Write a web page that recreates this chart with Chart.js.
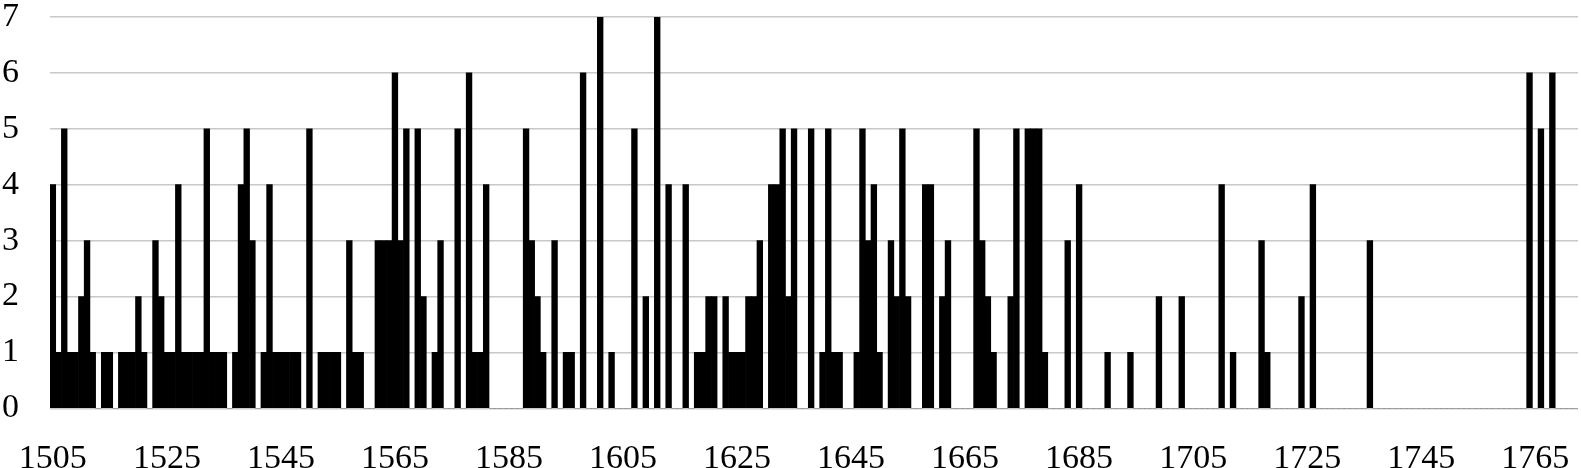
<!DOCTYPE html>
<html>
<head>
<meta charset="utf-8">
<script src="https://cdn.jsdelivr.net/npm/chart.js@4/dist/chart.umd.min.js"></script>
<style>
  html, body { margin: 0; padding: 0; background: #fff; }
  #wrap { width: 1581px; height: 468px; }
</style>
</head>
<body>
<div id="wrap"><canvas id="chart"></canvas></div>
<script>
// years on the category axis, one bar per year
const firstYear = 1505;
const lastYear = 1772;
const labelEvery = 20; // tick labels: 1505, 1525, ... 1765

// counts per year (10 per row, starting 1505)
const counts = [
  4, 1, 5, 1, 1, 2, 3, 1, 0, 1, // 1505
  1, 0, 1, 1, 1, 2, 1, 0, 3, 2, // 1515
  1, 1, 4, 1, 1, 1, 1, 5, 1, 1, // 1525
  1, 0, 1, 4, 5, 3, 0, 1, 4, 1, // 1535
  1, 1, 1, 1, 0, 5, 0, 1, 1, 1, // 1545
  1, 0, 3, 1, 1, 0, 0, 3, 3, 3, // 1555
  6, 3, 5, 0, 5, 2, 0, 1, 3, 0, // 1565
  0, 5, 0, 6, 1, 1, 4, 0, 0, 0, // 1575
  0, 0, 0, 5, 3, 2, 1, 0, 3, 0, // 1585
  1, 1, 0, 6, 0, 0, 7, 0, 1, 0, // 1595
  0, 0, 5, 0, 2, 0, 7, 0, 4, 0, // 1605
  0, 4, 0, 1, 1, 2, 2, 0, 2, 1, // 1615
  1, 1, 2, 2, 3, 0, 4, 4, 5, 2, // 1625
  5, 0, 0, 5, 0, 1, 5, 1, 1, 0, // 1635
  0, 1, 5, 3, 4, 1, 0, 3, 2, 5, // 1645
  2, 0, 0, 4, 4, 0, 2, 3, 0, 0, // 1655
  0, 0, 5, 3, 2, 1, 0, 0, 2, 5, // 1665
  0, 5, 5, 5, 1, 0, 0, 0, 3, 0, // 1675
  4, 0, 0, 0, 0, 1, 0, 0, 0, 1, // 1685
  0, 0, 0, 0, 2, 0, 0, 0, 2, 0, // 1695
  0, 0, 0, 0, 0, 4, 0, 1, 0, 0, // 1705
  0, 0, 3, 1, 0, 0, 0, 0, 0, 2, // 1715
  0, 4, 0, 0, 0, 0, 0, 0, 0, 0, // 1725
  0, 3, 0, 0, 0, 0, 0, 0, 0, 0, // 1735
  0, 0, 0, 0, 0, 0, 0, 0, 0, 0, // 1745
  0, 0, 0, 0, 0, 0, 0, 0, 0, 6, // 1755
  0, 5, 0, 6, 0, 0, 0, 0        // 1765
];

const yTicks = [0, 1, 2, 3, 4, 5, 6, 7];

const years = [];
for (let y = firstYear; y <= lastYear; y++) years.push(String(y));

const serif = "'Liberation Serif', 'Times New Roman', serif";

new Chart(document.getElementById("chart"), {
  type: "bar",
  data: {
    labels: years,
    datasets: [
      {
        data: counts,
        backgroundColor: "#000000",
        borderWidth: 0,
        barPercentage: 1,
        categoryPercentage: 1,
      },
    ],
  },
  options: {
    responsive: true,
    maintainAspectRatio: false,
    animation: false,
    layout: { padding: { top: 17, right: 3, left: 2, bottom: 0 } },
    plugins: { legend: { display: false }, tooltip: { enabled: false } },
    scales: {
      x: {
        grid: { display: false },
        border: { display: false },
        ticks: {
          autoSkip: false,
          maxRotation: 0,
          minRotation: 0,
          padding: 0,
          color: "#000",
          // tall line height pushes the year labels down below the axis
          font: { family: serif, size: 34, lineHeight: 2.54 },
          callback: (v, i) => (i % labelEvery === 0 ? years[i] : ""),
        },
        afterFit: (s) => { s.height = 59.7; },
      },
      y: {
        min: yTicks[0],
        max: yTicks[yTicks.length - 1],
        grid: { color: "#c8c8c8", lineWidth: 1.5, drawTicks: false },
        border: { display: false },
        ticks: {
          stepSize: 1,
          padding: 0,
          crossAlign: "far",
          color: "#000",
          font: { family: serif, size: 34, lineHeight: 1 },
        },
        afterFit: (s) => { s.width = 48; },
      },
    },
  },
});
</script>
</body>
</html>
